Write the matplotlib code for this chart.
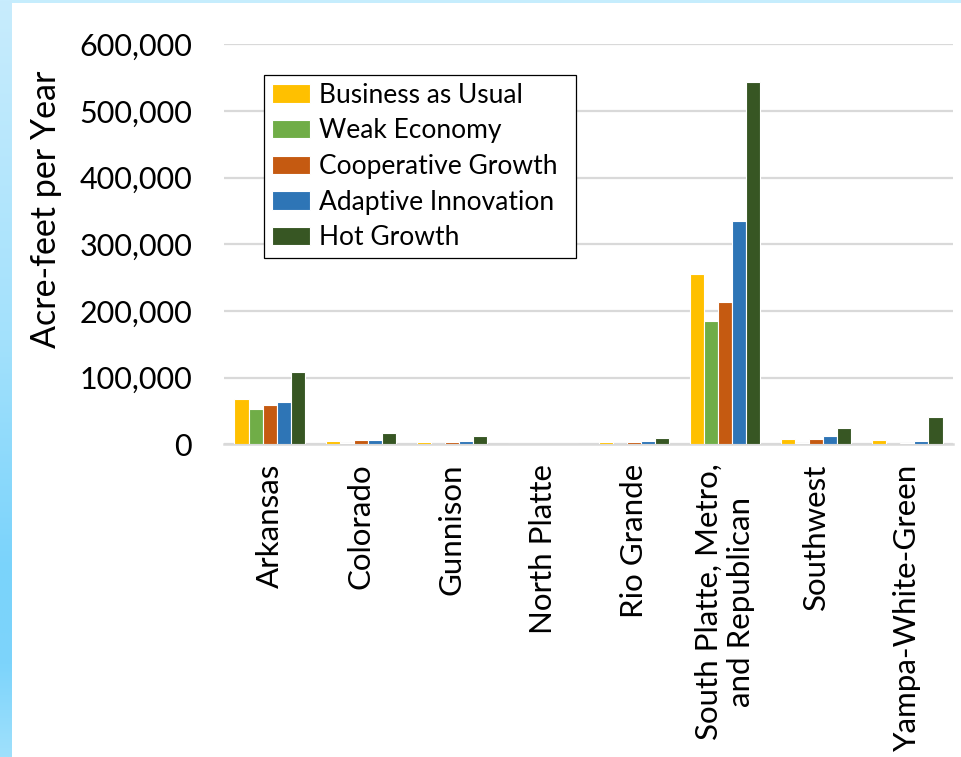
import matplotlib
matplotlib.use("Agg")
import matplotlib.pyplot as plt
import numpy as np
from matplotlib.patches import Rectangle
from matplotlib.legend_handler import HandlerPatch
from matplotlib.colors import LinearSegmentedColormap
from matplotlib.ticker import FuncFormatter

plt.rcParams['font.family'] = ['Lato', 'DejaVu Sans']

basins = ["Arkansas", "Colorado", "Gunnison", "North Platte", "Rio Grande",
          "South Platte, Metro,\nand Republican", "Southwest", "Yampa-White-Green"]

business_as_usual = [68000, 5000, 3500, 0, 3000, 256000, 8000, 6500]
weak_economy = [52500, 2500, 500, 0, 500, 185000, 2500, 500]
cooperative_growth = [58500, 6000, 4000, 0, 3500, 213000, 8000, 2500]
adaptive_innovation = [63000, 6000, 5500, 0, 5000, 335000, 13000, 4500]
hot_growth = [108000, 16500, 12000, 0, 9000, 543000, 25000, 41000]

series_names = ["Business as Usual", "Weak Economy", "Cooperative Growth",
                "Adaptive Innovation", "Hot Growth"]
series_colors = ["#FFC000", "#70AD47", "#C55A11", "#2E75B6", "#375623"]
series = [business_as_usual, weak_economy, cooperative_growth,
          adaptive_innovation, hot_growth]

W, H = 961, 757
fig = plt.figure(figsize=(W / 100, H / 100), dpi=100)

# light blue slide border (left strip + top strip)
strip = fig.add_axes([0, 0, 12 / W, 1])
cmap = LinearSegmentedColormap.from_list(
    "edge", [(0.0, "#c8ecfd"), (0.45, "#a3e1fc"), (0.75, "#7ad3fb"),
             (0.88, "#7dd4fb"), (1.0, "#9fe0fc")])
strip.imshow(np.linspace(0, 1, 256).reshape(-1, 1), aspect='auto', cmap=cmap,
             extent=(0, 1, 1, 0))
strip.set_axis_off()
fig.add_artist(Rectangle((12 / W, 1 - 2.5 / H), 1, 2.5 / H,
                         transform=fig.transFigure, color="#c6edfd", lw=0))

ax = fig.add_axes([224 / W, 1 - 444.3 / H, (953 - 224) / W, 400 / H])

x = np.arange(len(basins))
width = 0.154
for i, (vals, name, col) in enumerate(zip(series, series_names, series_colors)):
    ax.bar(x + (i - 2) * width, vals, width, color=col, label=name,
           edgecolor="white", linewidth=0.8, zorder=2)

ax.set_xlim(-0.5, len(basins) - 0.5)
ax.set_ylim(0, 600000)
ax.set_yticks(np.arange(0, 600001, 100000))
ax.yaxis.set_major_formatter(FuncFormatter(lambda v, p: f"{v:,.0f}"))
ax.yaxis.grid(True, color="#d9d9d9", linewidth=1.6)
ax.set_axisbelow(True)
for s in ["top", "right", "left"]:
    ax.spines[s].set_visible(False)
ax.spines["bottom"].set_color("#d9d9d9")
ax.spines["bottom"].set_linewidth(1.8)
ax.spines["bottom"].set_zorder(1)

ax.set_xticks(x)
ax.set_xticklabels(basins, rotation=90, fontsize=22.5, multialignment="center")
ax.tick_params(axis="x", length=0, pad=14)
ax.tick_params(axis="y", length=0, pad=23, labelsize=22)
ax.set_ylabel("Acre-feet per Year", fontsize=24.5)
ax.yaxis.set_label_coords((62 - 224) / 729, (444.3 - 209) / 400)


def square_handle(legend, orig_handle, xdescent, ydescent, width, height, fontsize):
    sq = 0.58 * fontsize
    return Rectangle((-xdescent + width - sq, -ydescent + (height - sq) / 2), sq, sq)


leg = fig.legend(loc="upper left", mode="expand",
                 bbox_to_anchor=(264 / W, 1 - 253 / H, 312 / W, 178 / H),
                 borderaxespad=0, borderpad=0.3, fontsize=19,
                 handlelength=1.45, handletextpad=0.34, labelspacing=0.4,
                 fancybox=False, framealpha=1, edgecolor="black",
                 handler_map={Rectangle: HandlerPatch(patch_func=square_handle)})
leg.get_frame().set_linewidth(0.9)

fig.savefig("out.png", dpi=100)
